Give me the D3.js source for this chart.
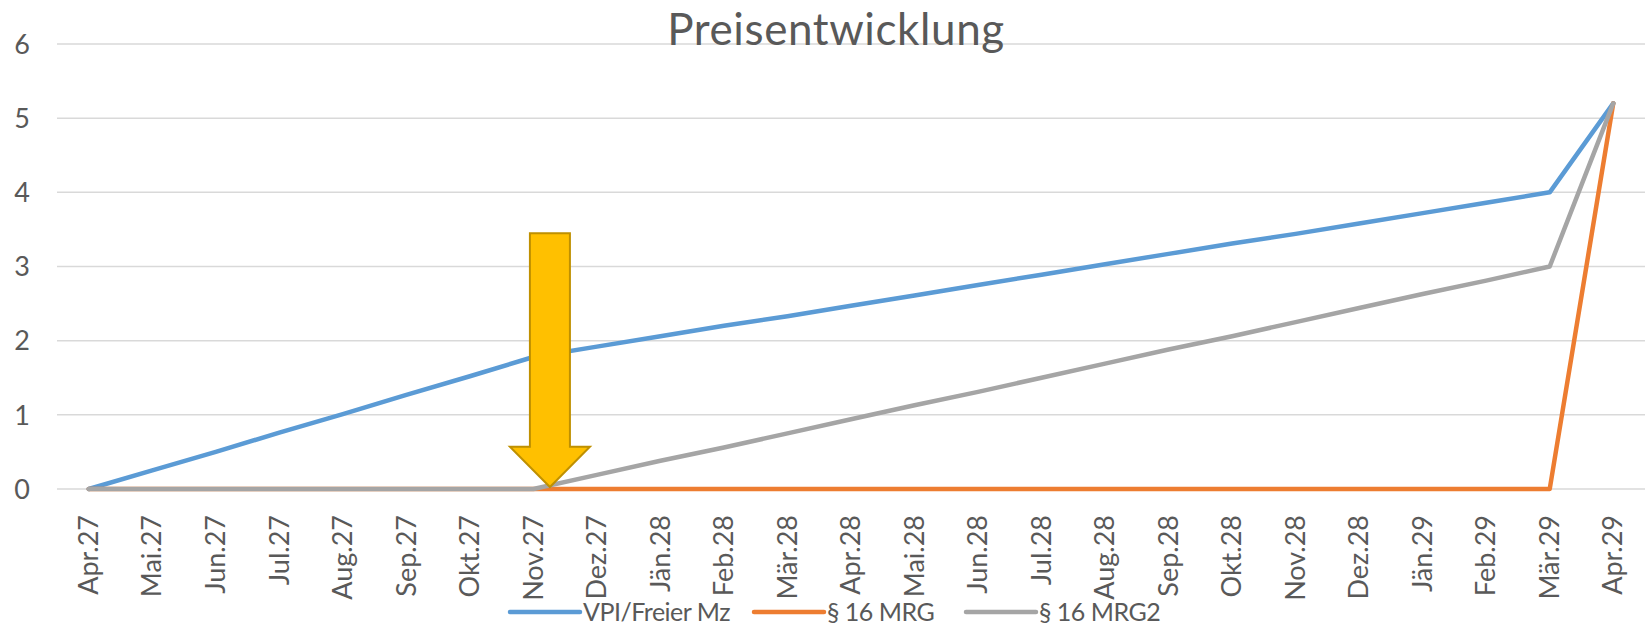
<!DOCTYPE html>
<html>
<head>
<meta charset="utf-8">
<script src="https://cdn.jsdelivr.net/npm/d3@7"></script>
<style>
  body { margin: 0; background: #fff; }
  text { font-family: Lato, "Noto Sans", sans-serif; fill: #595959; }
</style>
</head>
<body>
<div id="chart"></div>
<script>
// categories (months)
var months = ["Apr.27","Mai.27","Jun.27","Jul.27","Aug.27","Sep.27","Okt.27","Nov.27","Dez.27",
  "Jän.28","Feb.28","Mär.28","Apr.28","Mai.28","Jun.28","Jul.28","Aug.28","Sep.28","Okt.28",
  "Nov.28","Dez.28","Jän.29","Feb.29","Mär.29","Apr.29"];

// series values
var vpi = [0, 0.25, 0.5, 0.76, 1.01, 1.27, 1.52, 1.78, 1.92, 2.06, 2.2, 2.33, 2.47, 2.61, 2.75,
  2.89, 3.03, 3.17, 3.31, 3.44, 3.58, 3.72, 3.86, 4.0, 5.2];
var mrg = [0, 0, 0, 0, 0, 0, 0, 0, 0, 0, 0, 0, 0, 0, 0, 0, 0, 0, 0, 0, 0, 0, 0, 0, 5.2];
var mrg2 = [0, 0, 0, 0, 0, 0, 0, 0, 0.19, 0.38, 0.56, 0.75, 0.94, 1.13, 1.31, 1.5, 1.69,
  1.88, 2.06, 2.25, 2.44, 2.63, 2.81, 3.0, 5.2];

var seriesNames = ["VPI/Freier Mz", "§ 16 MRG", "§ 16 MRG2"];
var yTicks = [0, 1, 2, 3, 4, 5, 6];

var colors = ["#5B9BD5", "#ED7D31", "#A5A5A5"];
var series = [vpi, mrg, mrg2];

var width = 1646, height = 631;

var svg = d3.select("#chart").append("svg")
    .attr("width", width)
    .attr("height", height);

var x = d3.scaleBand().domain(months).range([57, 1645]).padding(0);
var y = d3.scaleLinear().domain([0, 6]).range([489, 44]);
var cx = function(m) { return x(m) + x.bandwidth() / 2; };

// gridlines
svg.append("g").selectAll("line")
    .data(yTicks)
  .enter().append("line")
    .attr("x1", x.range()[0]).attr("x2", x.range()[1])
    .attr("y1", function(d) { return y(d); })
    .attr("y2", function(d) { return y(d); })
    .attr("stroke", "#D9D9D9")
    .attr("stroke-width", 1.5);

// y labels
svg.append("g").selectAll("text")
    .data(yTicks)
  .enter().append("text")
    .attr("x", 30)
    .attr("y", function(d) { return y(d); })
    .attr("dy", "0.36em")
    .attr("text-anchor", "end")
    .style("font-size", "27px")
    .text(function(d) { return d; });

// x labels (rotated)
svg.append("g").selectAll("text")
    .data(months)
  .enter().append("text")
    .attr("transform", function(d) { return "translate(" + cx(d) + ",515) rotate(-90)"; })
    .attr("dy", "0.34em")
    .attr("text-anchor", "end")
    .style("font-size", "27px")
    .text(function(d) { return d; });

// lines
var line = d3.line()
    .x(function(d, i) { return cx(months[i]); })
    .y(function(d) { return y(d); });

series.forEach(function(s, k) {
  svg.append("path")
      .datum(s)
      .attr("d", line)
      .attr("fill", "none")
      .attr("stroke", colors[k])
      .attr("stroke-width", 4.5)
      .attr("stroke-linejoin", "round")
      .attr("stroke-linecap", "round");
});

// arrow annotation pointing at Nov.27
var step = x.step();
var ax = cx("Nov.27") + 0.26 * step,
    tipY = y(0) - 2,
    topY = y(3.45),
    headY = y(0.57),
    sw = 20, hw = 40;
var arrowPts = [[ax - sw, topY], [ax + sw, topY], [ax + sw, headY], [ax + hw, headY],
  [ax, tipY], [ax - hw, headY], [ax - sw, headY]];
svg.append("path")
    .attr("d", "M" + arrowPts.join("L") + "Z")
    .attr("fill", "#FFC000")
    .attr("stroke", "#BF9000")
    .attr("stroke-width", 2);

// title
svg.append("text")
    .attr("x", 836)
    .attr("y", 45)
    .attr("text-anchor", "middle")
    .style("font-size", "44px")
    .style("letter-spacing", "0.6px")
    .text("Preisentwicklung");

// legend
var legendX = [510, 754, 966];
var legend = svg.append("g").selectAll("g")
    .data(seriesNames)
  .enter().append("g")
    .attr("transform", function(d, i) { return "translate(" + legendX[i] + ",612)"; });
legend.append("line")
    .attr("x1", 0).attr("x2", 70)
    .attr("stroke", function(d, i) { return colors[i]; })
    .attr("stroke-width", 4.5)
    .attr("stroke-linecap", "round");
legend.append("text")
    .attr("x", 73)
    .attr("dy", "0.36em")
    .style("font-size", "25px")
    .style("letter-spacing", "-0.5px")
    .text(function(d) { return d; });
</script>
</body>
</html>
